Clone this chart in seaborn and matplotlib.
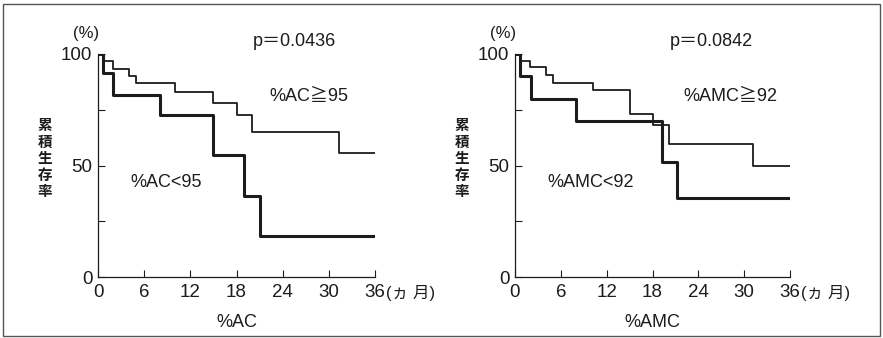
import numpy as np
import pandas as pd
import matplotlib
matplotlib.use("Agg")
import matplotlib.pyplot as plt
import seaborn as sns
from matplotlib.patches import Rectangle

# ---- data ----
months_ticks = [0, 6, 12, 18, 24, 30, 36]
y_ticks = [0, 25, 50, 75, 100]
y_ticklabels = ["0", "", "50", "", "100"]
ylabel_chars = ["累", "積", "生", "存", "率"]

# Left panel: %AC
ac_hi_t = [0, 0.7, 2, 4, 5, 10, 15, 18, 20, 31.3, 36]
ac_hi_s = [100, 97, 93.4, 90, 87, 83, 78, 72.7, 65.2, 55.5, 55.5]
ac_lo_t = [0, 0.7, 2, 8, 15, 19, 21.1, 36]
ac_lo_s = [100, 91.5, 81.8, 72.7, 54.5, 36.4, 18.2, 18.2]

# Right panel: %AMC
amc_hi_t = [0, 0.7, 1.9, 4, 5, 10.2, 15.1, 18, 20.1, 31.2, 36]
amc_hi_s = [100, 97, 94, 90.7, 87, 84, 73, 68, 59.5, 50, 50]
amc_lo_t = [0, 0.7, 2.1, 8, 19.2, 21.2, 36]
amc_lo_s = [100, 90, 80, 70, 51.5, 35.5, 35.5]

panels = [
    dict(hi=(ac_hi_t, ac_hi_s), lo=(ac_lo_t, ac_lo_s), xlabel="%AC",
         p="p＝0.0436", hi_lab="%AC≧95", lo_lab="%AC<95",
         p_xy=(0.71, 1.058), hi_xy=(0.76, 0.81), lo_xy=(0.245, 0.426)),
    dict(hi=(amc_hi_t, amc_hi_s), lo=(amc_lo_t, amc_lo_s), xlabel="%AMC",
         p="p＝0.0842", hi_lab="%AMC≧92", lo_lab="%AMC<92",
         p_xy=(0.713, 1.058), hi_xy=(0.785, 0.81), lo_xy=(0.276, 0.426)),
]

sns.set_theme(style="ticks")
plt.rcParams['font.family'] = ['Liberation Sans', 'Noto Sans CJK JP', 'DejaVu Sans']

W, H = 883, 338
fig = plt.figure(figsize=(W / 100, H / 100), dpi=100)
fig.patch.set_facecolor("white")

def fx(px):
    return px / W

def fy(py):
    return 1 - py / H

# outer frame
fig.patches.append(Rectangle((fx(3), fy(336)), fx(880) - fx(3), fy(4) - fy(336),
                             transform=fig.transFigure, fill=False,
                             edgecolor="#555555", linewidth=1.0))

axes_px = [(98, 375), (515, 790)]
ink = "#1c1c1c"
fs = 13

for (x0, x1), pn in zip(axes_px, panels):
    ax = fig.add_axes([fx(x0), fy(277), fx(x1) - fx(x0), fy(54) - fy(277)])
    ax.set_facecolor("white")
    df_hi = pd.DataFrame({"t": pn["hi"][0], "s": pn["hi"][1]})
    df_lo = pd.DataFrame({"t": pn["lo"][0], "s": pn["lo"][1]})
    sns.lineplot(data=df_hi, x="t", y="s", ax=ax, estimator=None, sort=False,
                 drawstyle="steps-post", color=ink, linewidth=1.3)
    sns.lineplot(data=df_lo, x="t", y="s", ax=ax, estimator=None, sort=False,
                 drawstyle="steps-post", color=ink, linewidth=2.2)
    ax.set_xlim(0, 36)
    ax.set_ylim(0, 100)
    ax.set_xticks(months_ticks)
    ax.set_xticklabels([str(m) for m in months_ticks], fontsize=fs + 0.5, color=ink)
    ax.set_yticks(y_ticks)
    ax.set_yticklabels(y_ticklabels, fontsize=fs + 0.5, color=ink)
    ax.tick_params(direction="in", length=5, width=0.8, colors=ink)
    ax.tick_params(axis="x", pad=5)
    ax.tick_params(axis="y", pad=4)
    ax.set_xlabel("")
    ax.set_ylabel("")
    sns.despine(ax=ax)
    for sp in ("left", "bottom"):
        ax.spines[sp].set_linewidth(0.9)
        ax.spines[sp].set_color(ink)

    # texts
    ax.text(-1.5, 109, "(%)", fontsize=fs - 1, color=ink, ha="center",
            va="center", clip_on=False)
    ax.text(37.4, -7.3, "(ヵ 月)", fontsize=fs - 1, color=ink, ha="left",
            va="center", clip_on=False)
    ax.text(18, -20.5, pn["xlabel"], fontsize=fs, color=ink, ha="center",
            va="center", clip_on=False)
    ax.text(*pn["p_xy"], pn["p"], transform=ax.transAxes, fontsize=fs,
            color=ink, ha="center", va="center")
    ax.text(*pn["hi_xy"], pn["hi_lab"], transform=ax.transAxes, fontsize=fs,
            color=ink, ha="center", va="center")
    ax.text(*pn["lo_xy"], pn["lo_lab"], transform=ax.transAxes, fontsize=fs,
            color=ink, ha="center", va="center")

    # vertical stacked y label, one character per row
    for i, ch in enumerate(ylabel_chars):
        fig.text(fx(x0 - 53), fy(126 + i * 16.5), ch, fontsize=10.5,
                 color=ink, ha="center", va="center", fontweight="bold")

fig.savefig("out.png", dpi=100, facecolor="white")
